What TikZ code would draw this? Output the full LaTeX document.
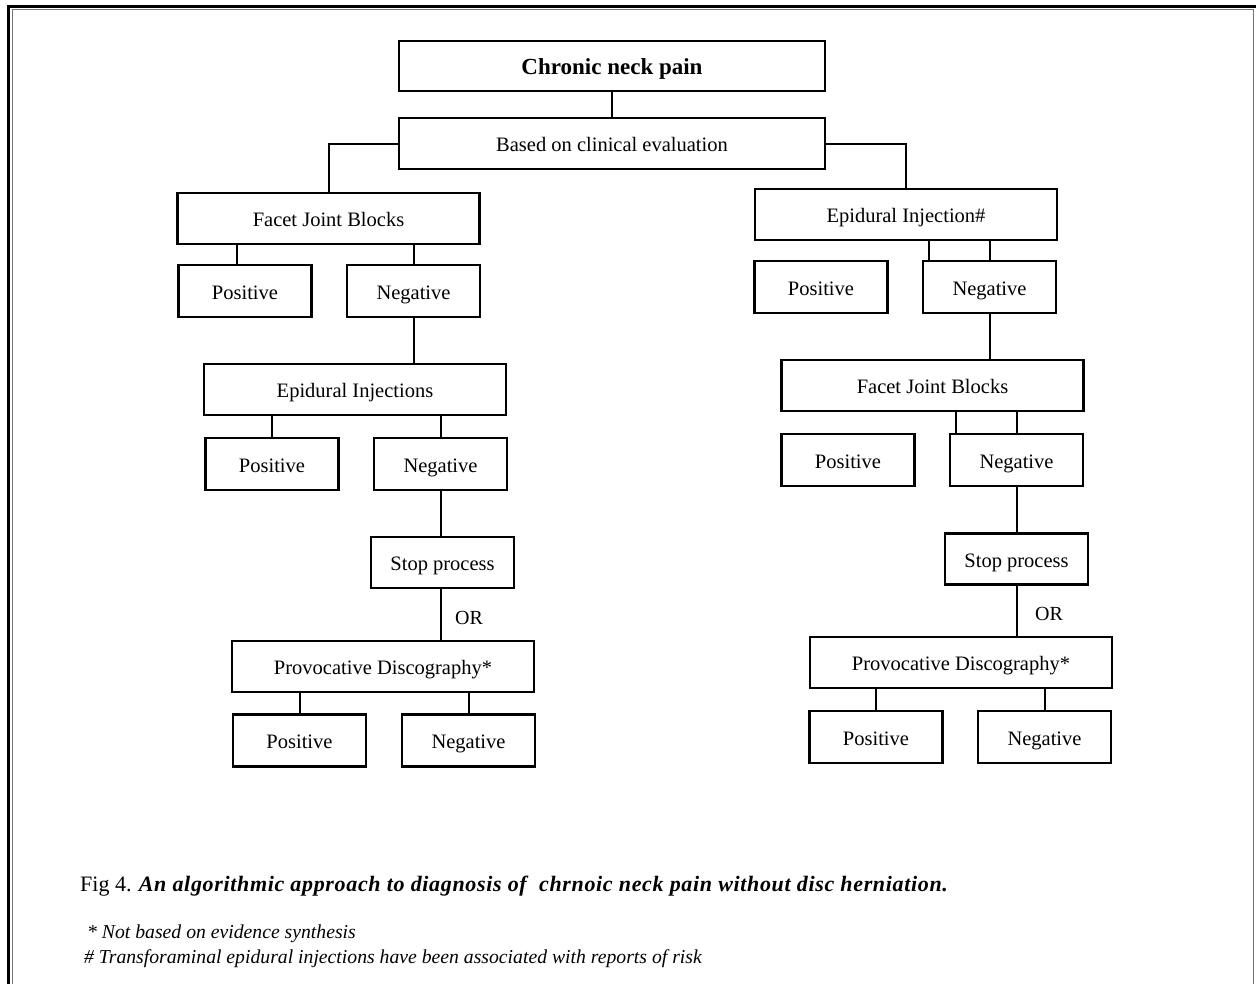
\documentclass[tikz,border=0pt]{standalone}
\usepackage{fontspec}
\setmainfont{Liberation Serif}
\usetikzlibrary{calc}
\begin{document}
\begin{tikzpicture}[x=1pt,y=-1pt,
  box/.style={draw=black, line width=2.8pt, fill=white, inner sep=0pt, align=center,
    text height=18pt, text depth=2pt, font=\fontsize{20.5}{24}\selectfont},
  wide/.style={box, minimum width=302pt, minimum height=51pt},
  small/.style={box, minimum width=133pt, minimum height=52pt},
  stopbox/.style={box, minimum width=143pt, minimum height=51pt},
  link/.style={draw=black, line width=2pt},
  ortext/.style={inner sep=0pt, font=\fontsize{20}{24}\selectfont},
  note/.style={anchor=base west, inner sep=0pt},
]
\useasboundingbox (0,0) rectangle (1256,983);
% frame
\draw[line width=3pt] (8.5,6) rectangle (1275,1000);
\draw[line width=1.5pt, draw=black!55] (12.5,9.5) rectangle (1253.5,1000);

% top
\node[box, minimum width=426pt, minimum height=50pt] (chronic) at (612,66)
  {\fontsize{23}{26}\selectfont\bfseries Chronic neck pain};
\node[box, minimum width=426pt, minimum height=51pt] (based) at (612,143.5) {Based on clinical evaluation};

% left branch
\node[wide] (lfacet) at (328.5,218.5) {Facet Joint Blocks};
\node[small] (lpos1) at (245,291) {Positive};
\node[small] (lneg1) at (413.5,291) {Negative};
\node[wide] (lepi) at (355,389.5) {Epidural Injections};
\node[small] (lpos2) at (272,464) {Positive};
\node[small] (lneg2) at (440.5,464) {Negative};
\node[stopbox] (lstop) at (442.5,562.5) {Stop process};
\node[wide] (lprov) at (383,666.5) {Provocative Discography*};
\node[small] (lpos3) at (299.5,740.5) {Positive};
\node[small] (lneg3) at (468.5,740.5) {Negative};
\node[ortext] (lor) at (469,618) {OR};

% right branch
\node[wide] (repi) at (906,214.5) {Epidural Injection\#};
\node[small] (rpos1) at (821,287) {Positive};
\node[small] (rneg1) at (989.5,287) {Negative};
\node[wide] (rfacet) at (932.5,385.5) {Facet Joint Blocks};
\node[small] (rpos2) at (848,460) {Positive};
\node[small] (rneg2) at (1016.5,460) {Negative};
\node[stopbox] (rstop) at (1016.5,559) {Stop process};
\node[wide] (rprov) at (961,662.5) {Provocative Discography*};
\node[small] (rpos3) at (876,737) {Positive};
\node[small] (rneg3) at (1044.5,737) {Negative};
\node[ortext] (ror) at (1049,613.5) {OR};

% helper x positions
\coordinate (xa) at (237,0);
\coordinate (xb) at (929,0);
\coordinate (xc) at (956,0);

% connectors
\draw[link] (chronic) -- (based);
\draw[link] (based.west) -| (lfacet.north);
\draw[link] (based.east) -| (repi.north);

\draw[link] (lfacet.south -| xa) -- (lpos1.north -| xa);
\draw[link] (lneg1.north) -- (lneg1.north |- lfacet.south);
\draw[link] (lneg1.south) -- (lneg1.south |- lepi.north);
\draw[link] (lpos2.north) -- (lpos2.north |- lepi.south);
\draw[link] (lneg2.north) -- (lneg2.north |- lepi.south);
\draw[link] (lneg2.south) -- (lneg2.south |- lstop.north);
\draw[link] (lstop.south -| lneg2.south) -- (lprov.north -| lneg2.south);
\draw[link] (lpos3.north) -- (lpos3.north |- lprov.south);
\draw[link] (lneg3.north) -- (lneg3.north |- lprov.south);

\draw[link] (repi.south -| xb) -- (rneg1.north -| xb);
\draw[link] (rneg1.north) -- (rneg1.north |- repi.south);
\draw[link] (rneg1.south) -- (rneg1.south |- rfacet.north);
\draw[link] (rfacet.south -| xc) -- (rneg2.north -| xc);
\draw[link] (rneg2.north) -- (rneg2.north |- rfacet.south);
\draw[link] (rneg2.south) -- (rneg2.south |- rstop.north);
\draw[link] (rstop.south) -- (rstop.south |- rprov.north);
\draw[link] (rpos3.north) -- (rpos3.north |- rprov.south);
\draw[link] (rneg3.north) -- (rneg3.north |- rprov.south);

% caption and notes
\node[note, font=\fontsize{22}{25}\selectfont] (cap) at (80,891)
  {Fig 4. {\addfontfeature{LetterSpace=3}\bfseries\itshape An algorithmic approach to diagnosis of~ chrnoic neck pain without disc herniation.}};
\node[note, font=\fontsize{19.7}{22}\selectfont\itshape] (fn1) at (87,938) {* Not based on evidence synthesis};
\node[note, font=\fontsize{19.7}{22}\selectfont\itshape] (fn2) at (84,963)
  {\# Transforaminal epidural injections have been associated with reports of risk};
\end{tikzpicture}
\end{document}
